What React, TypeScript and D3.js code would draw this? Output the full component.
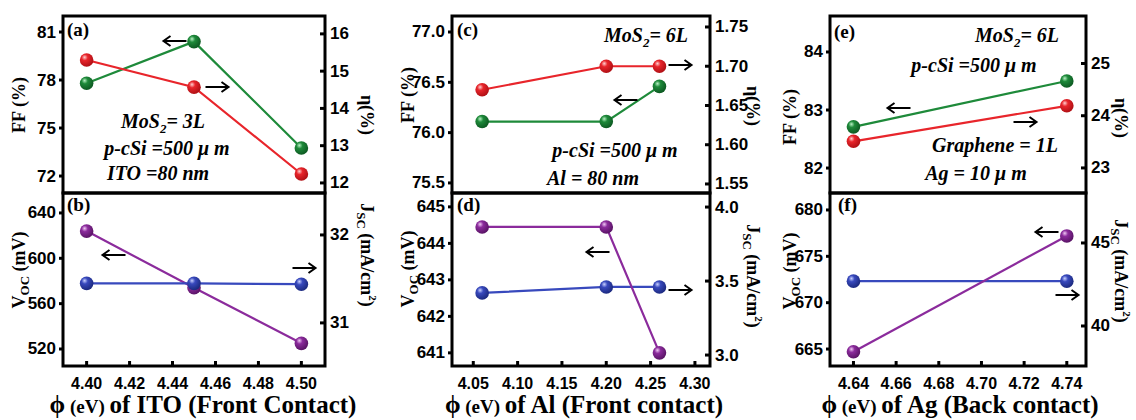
import React from "react";
import * as d3 from "d3";

// ---------- DATA ----------
const phiITO = [4.40, 4.45, 4.50];
const ffITO = [77.8, 80.4, 73.75];
const etaITO = [15.3, 14.57, 12.24];
const vocITO = [624, 574, 525];
const jscITO = [31.45, 31.45, 31.44];

const phiAl = [4.06, 4.20, 4.26];
const ffAl = [76.11, 76.11, 76.46];
const etaAl = [1.67, 1.70, 1.70];
const vocAl = [644.45, 644.45, 641.0];
const jscAl = [3.42, 3.46, 3.46];

const phiAg = [4.64, 4.74];
const ffAg = [82.71, 83.5];
const etaAg = [23.51, 24.19];
const vocAg = [664.7, 677.2];
const jscAg = [42.7, 42.7];

const xTicksITO = [4.40, 4.42, 4.44, 4.46, 4.48, 4.50];
const xTicksAl = [4.05, 4.10, 4.15, 4.20, 4.25, 4.30];
const xTicksAg = [4.64, 4.66, 4.68, 4.70, 4.72, 4.74];

const ticksFF_a = [72, 75, 78, 81];
const ticksEta_a = [12, 13, 14, 15, 16];
const ticksVoc_b = [520, 560, 600, 640];
const ticksJsc_b = [31, 32];
const ticksFF_c = [75.5, 76.0, 76.5, 77.0];
const ticksEta_c = [1.55, 1.60, 1.65, 1.70, 1.75];
const ticksVoc_d = [641, 642, 643, 644, 645];
const ticksJsc_d = [3.0, 3.5, 4.0];
const ticksFF_e = [82, 83, 84];
const ticksEta_e = [23, 24, 25];
const ticksVoc_f = [665, 670, 675, 680];
const ticksJsc_f = [40, 45];

// ---------- STYLE ----------
const RED = "#e8252b";
const GREEN = "#1e8a3a";
const PURPLE = "#8b2b9c";
const BLUE = "#3849bd";
const SANS = "'Liberation Sans', Arial, sans-serif";
const SERIF = "'Liberation Serif', 'DejaVu Serif', 'Times New Roman', serif";

const TOP = 16, MID = 193, BOT = 366;

type Ser = { y: number[]; color: string; grad: string; axis: "L" | "R" };
type Sub = {
  y0: number; y1: number; lDom: [number, number]; rDom: [number, number];
  lTicks: number[]; rTicks: number[]; lFmt: string; rFmt: string;
  series: Ser[]; label: string; labelPos: [number, number];
  lTitle: "FF" | "VOC"; rTitle: "ETA" | "JSC"; lTitleY: number; rTitleY: number;
  arrows: [number, number, number][];
  notes: { t: React.ReactNode; x: number; y: number }[];
};
type Col = {
  x0: number; x1: number; xDom: [number, number]; xs: number[]; xTicks: number[];
  xFmt: string; title: string; titleX: number; lTitleX: number; rTitleX: number; subs: Sub[];
};

const mos = (n: string) => (
  <>MoS<tspan fontSize={13} dy={5}>2</tspan><tspan dy={-5}>= {n}</tspan></>
);

const cols: Col[] = [
  {
    x0: 63, x1: 325, xDom: [4.389, 4.511], xs: phiITO, xTicks: xTicksITO, xFmt: ".2f",
    title: "ITO (Front Contact)", titleX: 203, lTitleX: 19, rTitleX: 367,
    subs: [
      {
        y0: TOP, y1: MID, lDom: [70.94, 82], rDom: [11.73, 16.48], lTicks: ticksFF_a, rTicks: ticksEta_a,
        lFmt: "d", rFmt: "d",
        series: [
          { y: ffITO, color: GREEN, grad: "gG", axis: "L" },
          { y: etaITO, color: RED, grad: "gR", axis: "R" },
        ],
        label: "(a)", labelPos: [67, 36], lTitle: "FF", rTitle: "ETA", lTitleY: 105, rTitleY: 115,
        arrows: [[175, 41, -1], [217, 87, 1]],
        notes: [
          { t: mos("3L"), x: 163, y: 128 },
          { t: "p-cSi =500 \u03bc m", x: 167, y: 155 },
          { t: "ITO =80 nm", x: 158, y: 180 },
        ],
      },
      {
        y0: MID, y1: BOT, lDom: [505, 657.6], rDom: [30.51, 32.477], lTicks: ticksVoc_b, rTicks: ticksJsc_b,
        lFmt: "d", rFmt: "d",
        series: [
          { y: vocITO, color: PURPLE, grad: "gP", axis: "L" },
          { y: jscITO, color: BLUE, grad: "gB", axis: "R" },
        ],
        label: "(b)", labelPos: [67, 211], lTitle: "VOC", rTitle: "JSC", lTitleY: 270, rTitleY: 255,
        arrows: [[114, 255, -1], [304, 268, 1]],
        notes: [],
      },
    ],
  },
  {
    x0: 452, x1: 710, xDom: [4.026, 4.317], xs: phiAl, xTicks: xTicksAl, xFmt: ".2f",
    title: "Al (Front contact)", titleX: 584, lTitleX: 408, rTitleX: 753,
    subs: [
      {
        y0: TOP, y1: MID, lDom: [75.40, 77.159], rDom: [1.5385, 1.764], lTicks: ticksFF_c, rTicks: ticksEta_c,
        lFmt: ".1f", rFmt: ".2f",
        series: [
          { y: etaAl, color: RED, grad: "gR", axis: "R" },
          { y: ffAl, color: GREEN, grad: "gG", axis: "L" },
        ],
        label: "(c)", labelPos: [457, 36], lTitle: "FF", rTitle: "ETA", lTitleY: 95, rTitleY: 106,
        arrows: [[680, 65, 1], [626, 100, -1]],
        notes: [
          { t: mos("6L"), x: 646, y: 42 },
          { t: "p-cSi =500 \u03bc m", x: 615, y: 157 },
          { t: "Al = 80 nm", x: 593, y: 185 },
        ],
      },
      {
        y0: MID, y1: BOT, lDom: [640.64, 645.38], rDom: [2.926, 4.095], lTicks: ticksVoc_d, rTicks: ticksJsc_d,
        lFmt: "d", rFmt: ".1f",
        series: [
          { y: jscAl, color: BLUE, grad: "gB", axis: "R" },
          { y: vocAl, color: PURPLE, grad: "gP", axis: "L" },
        ],
        label: "(d)", labelPos: [457, 211], lTitle: "VOC", rTitle: "JSC", lTitleY: 269, rTitleY: 276,
        arrows: [[598, 252, -1], [680, 290, 1]],
        notes: [],
      },
    ],
  },
  {
    x0: 830, x1: 1086, xDom: [4.629, 4.749], xs: phiAg, xTicks: xTicksAg, xFmt: ".2f",
    title: "Ag (Back contact)", titleX: 960, lTitleX: 790, rTitleX: 1121,
    subs: [
      {
        y0: TOP, y1: MID, lDom: [81.57, 84.62], rDom: [22.52, 25.91], lTicks: ticksFF_e, rTicks: ticksEta_e,
        lFmt: "d", rFmt: "d",
        series: [
          { y: etaAg, color: RED, grad: "gR", axis: "R" },
          { y: ffAg, color: GREEN, grad: "gG", axis: "L" },
        ],
        label: "(e)", labelPos: [834, 38], lTitle: "FF", rTitle: "ETA", lTitleY: 117, rTitleY: 118,
        arrows: [[899, 108, -1], [1025, 122, 1]],
        notes: [
          { t: mos("6L"), x: 1017, y: 42 },
          { t: "p-cSi =500 \u03bc m", x: 974, y: 72 },
          { t: "Graphene = 1L", x: 995, y: 152 },
          { t: "Ag = 10 \u03bc m", x: 976, y: 180 },
        ],
      },
      {
        y0: MID, y1: BOT, lDom: [663.17, 681.83], rDom: [37.59, 48.01], lTicks: ticksVoc_f, rTicks: ticksJsc_f,
        lFmt: "d", rFmt: "d",
        series: [
          { y: jscAg, color: BLUE, grad: "gB", axis: "R" },
          { y: vocAg, color: PURPLE, grad: "gP", axis: "L" },
        ],
        label: "(f)", labelPos: [838, 211], lTitle: "VOC", rTitle: "JSC", lTitleY: 271, rTitleY: 271,
        arrows: [[1047, 232, -1], [1067, 295, 1]],
        notes: [],
      },
    ],
  },
];

const grads: [string, string, string, string][] = [
  ["gR", "#ffd0d0", RED, "#b01015"],
  ["gG", "#b8f0c4", GREEN, "#0d5a22"],
  ["gP", "#f0c8f4", PURPLE, "#5a1466"],
  ["gB", "#c8d0ff", BLUE, "#1c2a80"],
];

function arrowPath(cx: number, cy: number, dir: number) {
  const L = 11.5;
  const tip = cx + dir * L;
  const tail = cx - dir * L;
  return `M${tail},${cy}L${tip},${cy}M${tip - dir * 7},${cy - 5}L${tip},${cy}L${tip - dir * 7},${cy + 5}`;
}

function LeftTitle({ kind, x, y }: { kind: string; x: number; y: number }) {
  return (
    <text transform={`translate(${x},${y}) rotate(-90)`} textAnchor="middle" dominantBaseline="central"
      fontFamily={SERIF} fontWeight="bold" fontSize={18}>
      {kind === "FF" ? "FF (%)" : (<>V<tspan fontSize={13} dy={5}>OC</tspan><tspan dy={-5}> (mV)</tspan></>)}
    </text>
  );
}
function RightTitle({ kind, x, y }: { kind: string; x: number; y: number }) {
  return (
    <text transform={`translate(${x},${y}) rotate(90)`} textAnchor="middle" dominantBaseline="central"
      fontFamily={SERIF} fontWeight="bold" fontSize={18}>
      {kind === "ETA" ? "\u03b7(%)" : (
        <>J<tspan fontSize={13} dy={5}>SC</tspan><tspan dy={-5}> (mA/cm</tspan><tspan fontSize={11} dy={-6}>2</tspan><tspan dy={6}>)</tspan></>
      )}
    </text>
  );
}

export default function App() {
  return (
    <svg width={1136} height={420} style={{ position: "absolute", left: 0, top: 0, background: "#fff" }}>
      <defs>
        {grads.map(([id, hi, mid, lo]) => (
          <radialGradient key={id} id={id} cx="38%" cy="35%" r="65%" fx="35%" fy="30%">
            <stop offset="0%" stopColor={hi} />
            <stop offset="35%" stopColor={mid} />
            <stop offset="100%" stopColor={lo} />
          </radialGradient>
        ))}
      </defs>
      <rect width={1136} height={420} fill="#fff" />
      {cols.map((c, ci) => {
        const x = d3.scaleLinear().domain(c.xDom).range([c.x0, c.x1]);
        const xf = d3.format(c.xFmt);
        return (
          <g key={ci}>
            {c.subs.map((s, si) => {
              const yl = d3.scaleLinear().domain(s.lDom).range([s.y1, s.y0]);
              const yr = d3.scaleLinear().domain(s.rDom).range([s.y1, s.y0]);
              const lf = d3.format(s.lFmt);
              const rf = d3.format(s.rFmt);
              return (
                <g key={si}>
                  {s.series.map((se, k) => {
                    const ys = se.axis === "L" ? yl : yr;
                    const line = d3.line<number>().x((_, i) => x(c.xs[i])).y((v) => ys(v));
                    return (
                      <g key={k}>
                        <path d={line(se.y) || ""} fill="none" stroke={se.color} strokeWidth={2.2} />
                        {se.y.map((v, i) => (
                          <circle key={i} cx={x(c.xs[i])} cy={ys(v)} r={6.8} fill={`url(#${se.grad})`} />
                        ))}
                      </g>
                    );
                  })}
                  {s.lTicks.map((t) => (
                    <g key={"l" + t}>
                      <line x1={c.x0 - 4} x2={c.x0} y1={yl(t)} y2={yl(t)} stroke="#000" strokeWidth={3} />
                      <text x={c.x0 - 7} y={yl(t)} textAnchor="end" dominantBaseline="central"
                        fontFamily={SANS} fontWeight="bold" fontSize={17}>{lf(t)}</text>
                    </g>
                  ))}
                  {s.rTicks.map((t) => (
                    <g key={"r" + t}>
                      <line x1={c.x1 - 5} x2={c.x1} y1={yr(t)} y2={yr(t)} stroke="#000" strokeWidth={3} />
                      <text x={c.x1 + 5} y={yr(t)} textAnchor="start" dominantBaseline="central"
                        fontFamily={SANS} fontWeight="bold" fontSize={17}>{rf(t)}</text>
                    </g>
                  ))}
                  <rect x={c.x0} y={s.y0} width={c.x1 - c.x0} height={s.y1 - s.y0} fill="none" stroke="#000" strokeWidth={3} />
                  <text x={s.labelPos[0]} y={s.labelPos[1]} fontFamily={SERIF} fontWeight="bold" fontSize={19}>{s.label}</text>
                  {s.arrows.map(([ax, ay, dir], k) => (
                    <path key={k} d={arrowPath(ax, ay, dir)} fill="none" stroke="#000" strokeWidth={2} />
                  ))}
                  {s.notes.map((n, k) => (
                    <text key={k} x={n.x} y={n.y} textAnchor="middle" fontFamily={SERIF} fontWeight="bold"
                      fontStyle="italic" fontSize={20}>{n.t}</text>
                  ))}
                  <LeftTitle kind={s.lTitle} x={c.lTitleX} y={s.lTitleY} />
                  <RightTitle kind={s.rTitle} x={c.rTitleX} y={s.rTitleY} />
                </g>
              );
            })}
            {c.xTicks.map((t) => (
              <g key={"x" + t}>
                <line x1={x(t)} x2={x(t)} y1={BOT} y2={BOT - 5} stroke="#000" strokeWidth={3} />
                <text x={x(t)} y={389} textAnchor="middle" fontFamily={SANS} fontWeight="bold" fontSize={16}>{xf(t)}</text>
              </g>
            ))}
            <text x={c.titleX} y={413} textAnchor="middle" fontFamily={SERIF} fontWeight="bold" fontSize={25}>
              {"\u03d5"}<tspan fontSize={19}> (eV) </tspan>{"of " + c.title}
            </text>
          </g>
        );
      })}
    </svg>
  );
}
